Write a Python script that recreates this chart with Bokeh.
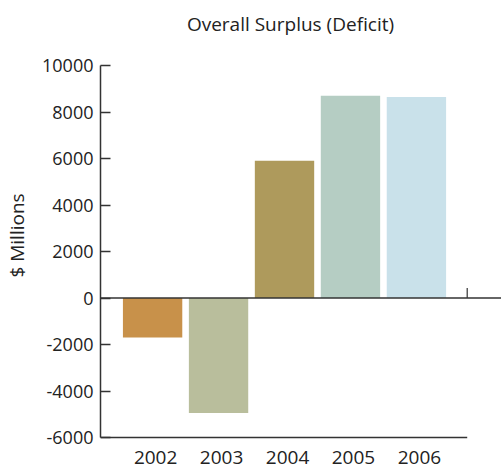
import math
from bokeh.plotting import figure
from bokeh.models import Range1d, Span, FixedTicker, ColumnDataSource, Label
from bokeh.core.properties import value
from bokeh.embed import file_html
from bokeh.resources import INLINE

# Overall surplus / deficit by fiscal year, $ millions
years = ["2002", "2003", "2004", "2005", "2006"]
surplus = [-1700, -4950, 5900, 8700, 8650]
bar_colors = ["#C8914A", "#B9BE9C", "#AE9A5C", "#B5CDC3", "#C9E1EA"]
y_ticks = [-6000, -4000, -2000, 0, 2000, 4000, 6000, 8000, 10000]
title = "Overall Surplus (Deficit)"

FONT = "Open Sans"
INK = "#333333"
TEXT = "#222222"

xs = list(range(len(years)))
src = ColumnDataSource(dict(x=xs, top=surplus, color=bar_colors, label=years,
                            base=[y_ticks[0]] * len(years)))

x_start = -0.79
x_end_axis = len(years) - 0.23  # where the bottom baseline ends

# the frame spans the full height; the axis itself is bounded to the ticks
p = figure(width=501, height=470, output_backend="svg", toolbar_location=None,
           x_range=Range1d(x_start, 5.29), y_range=Range1d(-7419, 12796),
           min_border_left=100, min_border_right=0, min_border_bottom=0,
           min_border_top=0, x_axis_location=None)

p.grid.visible = False
p.outline_line_color = None
p.background_fill_color = "white"
p.border_fill_color = "white"

p.vbar(x="x", top="top", bottom=0, width=0.9, fill_color="color",
       line_color=None, source=src)

# zero line across the chart and the baseline at the bottom
p.add_layout(Span(location=0, dimension="width", line_color=INK, line_width=1.5))
p.segment(x0=[x_start], y0=[y_ticks[0]], x1=[x_end_axis], y1=[y_ticks[0]],
          line_color=INK, line_width=1.5)
p.segment(x0=[x_end_axis], y0=[0], x1=[x_end_axis], y1=[430],
          line_color=INK, line_width=1.2)

# year labels under the baseline
p.text(x="x", y="base", text="label", source=src, x_offset=3, y_offset=13,
       text_align="center", text_baseline="top", text_font=value(FONT),
       text_font_size="19px", text_color=TEXT)

# chart title at the top
p.add_layout(Label(x=190, y=447, x_units="screen", y_units="screen",
                   text=title, text_align="center", text_baseline="middle",
                   text_font=FONT, text_font_size="19px", text_color=TEXT))

ax = p.yaxis[0]
ax.bounds = (y_ticks[0], y_ticks[-1])
ax.ticker = FixedTicker(ticks=y_ticks)
ax.major_label_overrides = {t: str(t) for t in y_ticks}
ax.axis_label = "$ Millions"
ax.axis_label_text_font = FONT
ax.axis_label_text_font_size = "19px"
ax.axis_label_text_font_style = "normal"
ax.axis_label_text_color = TEXT
ax.axis_label_standoff = 9
ax.major_label_text_font = FONT
ax.major_label_text_font_size = "18px"
ax.major_label_text_color = TEXT
ax.major_label_standoff = 7
ax.major_tick_in = 10
ax.major_tick_out = 0
ax.minor_tick_in = 0
ax.minor_tick_out = 0
ax.axis_line_color = INK
ax.axis_line_width = 1.5
ax.major_tick_line_color = INK
ax.major_tick_line_width = 1.5

open("out.html", "w").write(file_html(p, INLINE))
